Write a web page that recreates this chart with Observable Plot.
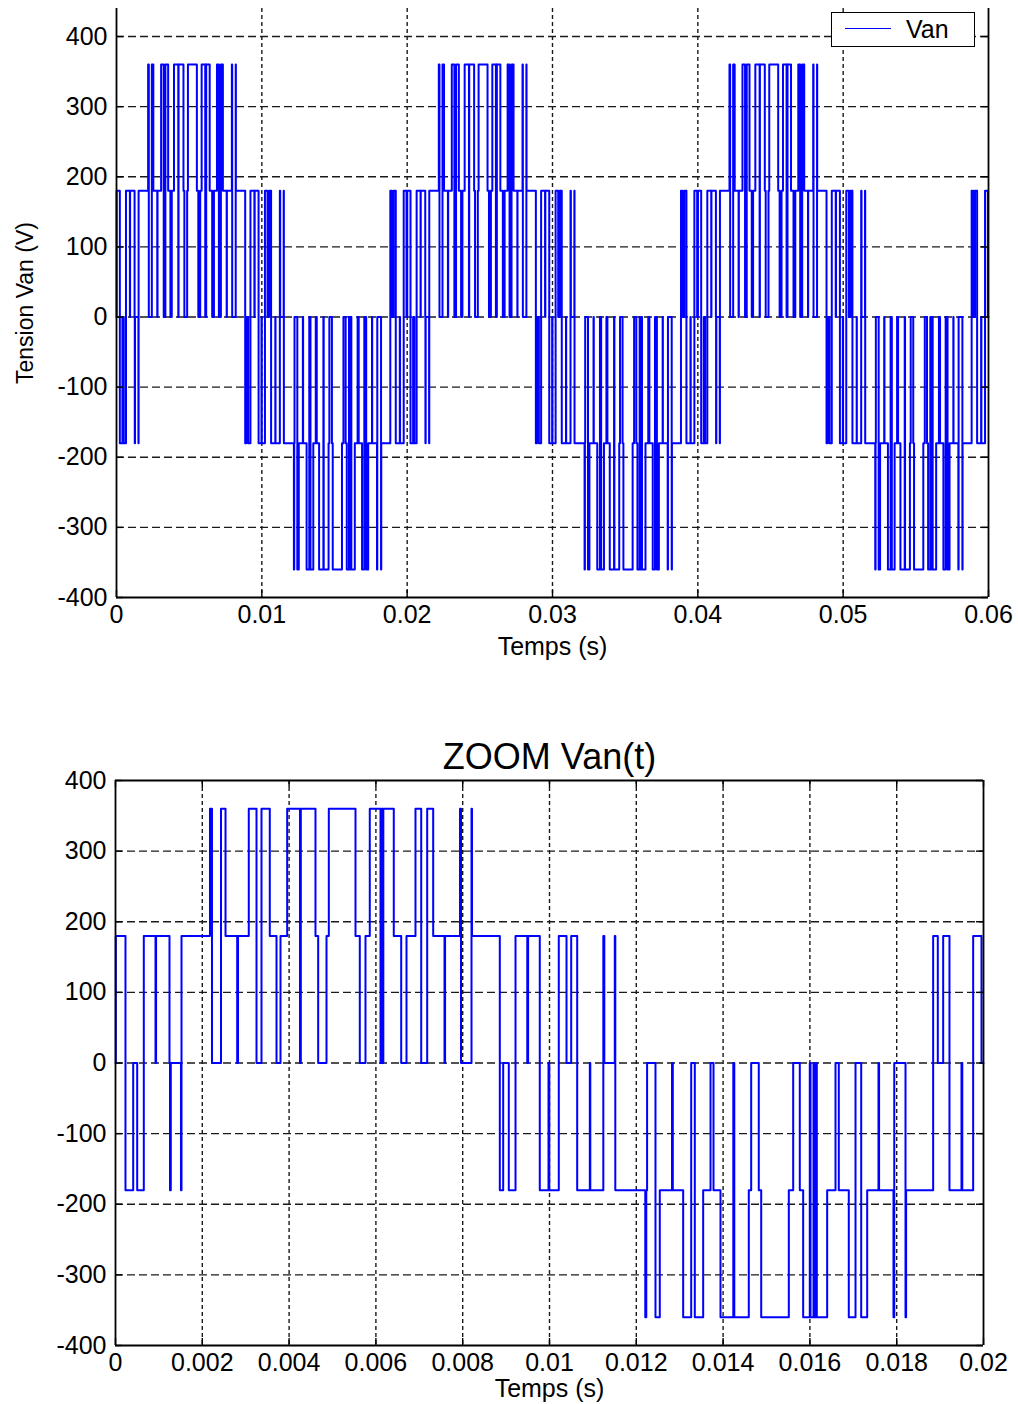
<!DOCTYPE html>
<html><head><meta charset="utf-8">
<script src="https://cdn.jsdelivr.net/npm/d3@7"></script>
<script src="https://cdn.jsdelivr.net/npm/@observablehq/plot@0.6"></script>
<style>
body{margin:0;background:#fff;}
#wrap{position:relative;width:1018px;height:1404px;background:#fff;font-family:"Liberation Sans",Arial,sans-serif;overflow:hidden;}
#top{position:absolute;left:0;top:0;}
#bottom{position:absolute;left:0;top:680px;}
#legend{position:absolute;left:831px;top:12px;width:144px;height:35px;border:1.5px solid #000;background:#fff;box-sizing:border-box;}
#legend .ln{position:absolute;left:13px;top:15px;width:46px;height:0;border-top:1.5px solid #0000ff;}
#legend .tx{position:absolute;left:74px;top:2px;font-size:25px;line-height:28px;color:#000;}
</style></head><body>
<div id="wrap"><div id="top"></div><div id="bottom"></div>
<div id="legend"><div class="ln"></div><div class="tx">Van</div></div></div>
<script>
// One period (0 - 0.02 s) of the phase voltage Van:
// switching instants (s) and the level (V) held from that instant on.
const switchTimes = [
  0, 0.000007, 0.000230, 0.000408, 0.000500, 0.000652, 0.000922, 0.000935,
  0.001244, 0.001256, 0.001274, 0.001509, 0.001521, 0.002177, 0.002223, 0.002431,
  0.002535, 0.002804, 0.002823, 0.003071, 0.003249, 0.003364, 0.003555, 0.003710,
  0.003802, 0.003956, 0.004251, 0.004270, 0.004608, 0.004670, 0.004862, 0.004915,
  0.005530, 0.005629, 0.005760, 0.005859, 0.006106, 0.006124, 0.006152, 0.006171,
  0.006412, 0.006583, 0.006705, 0.006912, 0.007044, 0.007182, 0.007320, 0.007581,
  0.007594, 0.007938, 0.007961, 0.008203, 0.008214, 0.008855, 0.008933, 0.009062,
  0.009217, 0.009488, 0.009507, 0.009776, 0.009977, 0.009995, 0.010214, 0.010392,
  0.010500, 0.010638, 0.010929, 0.010940, 0.011240, 0.011263, 0.011504, 0.011516,
  0.012207, 0.012230, 0.012249, 0.012442, 0.012541, 0.012823, 0.012841, 0.013080,
  0.013265, 0.013348, 0.013541, 0.013710, 0.013779, 0.013940, 0.014235, 0.014258,
  0.014592, 0.014647, 0.014822, 0.014878, 0.015514, 0.015615, 0.015767, 0.015845,
  0.015997, 0.016014, 0.016083, 0.016099, 0.016140, 0.016159, 0.016398, 0.016590,
  0.016666, 0.016896, 0.017051, 0.017182, 0.017320, 0.017580, 0.017594, 0.017926,
  0.017944, 0.018203, 0.018217, 0.018840, 0.018947, 0.019071, 0.019216, 0.019493,
  0.019511, 0.019762, 0.019954, 0.020000
];
const levels = [
  0, 180, -180, 0, -180, 180, 0, 180,
  0, -180, 0, -180, 180, 360, 0, 360,
  180, 0, 180, 360, 0, 360, 180, 0,
  180, 360, 0, 360, 180, 0, 180, 360,
  180, 0, 180, 360, 0, 360, 0, 360,
  180, 0, 180, 360, 0, 360, 180, 0,
  180, 360, 0, 360, 180, -180, 0, -180,
  180, 0, 180, -180, 0, -180, 180, 0,
  180, -180, 0, -180, 180, 0, 180, -180,
  -360, -180, 0, -360, -180, 0, -180, -360,
  0, -360, -180, 0, -180, -360, 0, -360,
  -180, 0, -180, -360, -180, 0, -180, -360,
  0, -360, 0, -360, 0, -360, -180, 0,
  -180, -360, 0, -360, -180, 0, -180, -360,
  0, -360, -180, 180, 0, 180, -180, 0,
  -180, 180, 0, 0
];
const period = 0.02;
const periodsShown = 3;

const topXTicks = [0, 0.01, 0.02, 0.03, 0.04, 0.05, 0.06];
const topXLabels = ["0", "0.01", "0.02", "0.03", "0.04", "0.05", "0.06"];
const zoomXTicks = [0, 0.002, 0.004, 0.006, 0.008, 0.01, 0.012, 0.014, 0.016, 0.018, 0.02];
const zoomXLabels = ["0", "0.002", "0.004", "0.006", "0.008", "0.01", "0.012", "0.014", "0.016", "0.018", "0.02"];
const yTicks = [-400, -300, -200, -100, 0, 100, 200, 300, 400];
const yLabels = ["-400", "-300", "-200", "-100", "0", "100", "200", "300", "400"];

const onePeriod = switchTimes.map((t, i) => ({t, v: levels[i]}));
const threePeriods = [];
for (let k = 0; k < periodsShown; k++) {
  onePeriod.forEach(d => threePeriods.push({t: d.t + k * period, v: d.v}));
}

function chart({data, xDomain, yDomain, xTicks, xLabels, width, height, mt, mb, ml, mr,
                title, ylabel, topFrame, xlabelDy}) {
  const innerH = height - mt - mb, innerW = width - ml - mr;
  const gridX = xTicks.filter(d => d > xDomain[0] && d < xDomain[1]);
  const gridY = yTicks.filter(d => d > yDomain[0] && d < yDomain[1]);
  const tk = 7;
  const fs = 25;
  const marks = [
    Plot.ruleX(gridX, {x: d => d, stroke: "#1a1a1a", strokeWidth: 1.4, strokeDasharray: "4,3"}),
    Plot.ruleY(gridY, {y: d => d, stroke: "#1a1a1a", strokeWidth: 1.4, strokeDasharray: "8,4"}),
    Plot.line(data, {x: "t", y: "v", curve: "step-after", stroke: "#0000ff", strokeWidth: 2}),
    Plot.ruleX(xTicks, {x: d => d, insetTop: innerH - tk, stroke: "#000", strokeWidth: 1.4}),
    Plot.ruleY(yTicks, {y: d => d, insetRight: innerW - tk, stroke: "#000", strokeWidth: 1.4}),
    Plot.ruleY(yTicks, {y: d => d, insetLeft: innerW - tk, stroke: "#000", strokeWidth: 1.4}),
    Plot.ruleX(xDomain, {x: d => d, stroke: "#000", strokeWidth: 1.8}),
    Plot.ruleY([yDomain[0]], {y: d => d, stroke: "#000", strokeWidth: 1.8}),
    Plot.axisX(xTicks, {tickSize: 0, tickPadding: 8, label: null, tickFormat: (d, i) => xLabels[i], fill: "#000", fontSize: fs}),
    Plot.axisY(yTicks, {tickSize: 0, tickPadding: 9, label: null, tickFormat: (d, i) => yLabels[i], fill: "#000", fontSize: fs}),
    Plot.text(["Temps (s)"], {text: d => d, frameAnchor: "bottom", lineAnchor: "middle", textAnchor: "middle", dy: xlabelDy, fill: "#000", fontSize: 25})
  ];
  if (topFrame) {
    marks.push(Plot.ruleY([yDomain[1]], {y: d => d, stroke: "#000", strokeWidth: 1.8}));
    marks.push(Plot.ruleX(xTicks, {x: d => d, insetBottom: innerH - tk, stroke: "#000", strokeWidth: 1.4}));
  }
  if (title) marks.push(Plot.text([title], {text: d => d, frameAnchor: "top", lineAnchor: "middle", textAnchor: "middle", dy: -23, fill: "#000", fontSize: 36}));
  if (ylabel) marks.push(Plot.text([ylabel], {text: d => d, frameAnchor: "left", lineAnchor: "middle", textAnchor: "middle", dx: -91, rotate: -90, fill: "#000", fontSize: 23}));
  return Plot.plot({
    width, height, marginTop: mt, marginBottom: mb, marginLeft: ml, marginRight: mr,
    style: {fontFamily: "'Liberation Sans', Arial, sans-serif", fontSize: "25px", background: "#fff", overflow: "visible"},
    x: {domain: xDomain, axis: null, label: null},
    y: {domain: yDomain, axis: null, label: null},
    marks
  });
}

document.getElementById("top").appendChild(chart({
  data: threePeriods, xDomain: [0, 0.06], yDomain: [-400, 440],
  xTicks: topXTicks, xLabels: topXLabels,
  width: 1018, height: 680, mt: 8, mb: 83, ml: 116, mr: 30,
  ylabel: "Tension Van (V)", topFrame: false, xlabelDy: 49
}));
document.getElementById("bottom").appendChild(chart({
  data: onePeriod, xDomain: [0, 0.02], yDomain: [-400, 400],
  xTicks: zoomXTicks, xLabels: zoomXLabels,
  width: 1018, height: 724, mt: 100, mb: 59, ml: 115, mr: 35,
  title: "ZOOM Van(t)", topFrame: true, xlabelDy: 43
}));
</script></body></html>
